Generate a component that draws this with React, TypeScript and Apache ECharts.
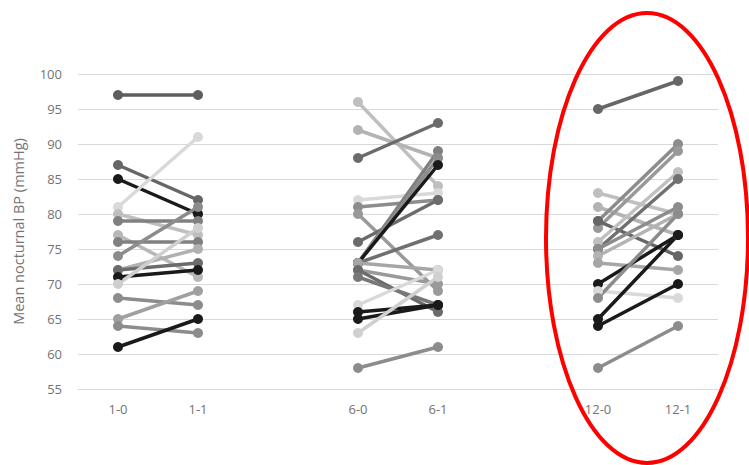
import React, { useEffect, useRef } from "react";
import * as echarts from "echarts";

const categories = ["1-0", "1-1", "", "6-0", "6-1", "", "12-0", "12-1"];
const yTicks = { min: 55, max: 100, interval: 5 };

// Month 1 pairs (before, after, shade)
const m1Before = [97, 87, 85, 81, 80, 79, 77, 76, 74, 72, 72, 71, 70, 68, 65, 64, 61];
const m1After = [97, 82, 80, 91, 77, 79, 71, 76, 81, 75, 73, 72, 78, 67, 69, 63, 65];
const m1Shade = ["#5e5e5e", "#666666", "#1a1a1a", "#d9d9d9", "#bfbfbf", "#808080", "#b8b8b8", "#808080", "#8c8c8c", "#b0b0b0", "#6b6b6b", "#1a1a1a", "#cfcfcf", "#8c8c8c", "#a0a0a0", "#8c8c8c", "#1a1a1a"];

// Month 6 pairs
const m6Before = [96, 92, 88, 82, 81, 80, 76, 73, 73, 73, 73, 73, 72, 72, 71, 67, 66, 65, 63, 58];
const m6After = [84, 88, 93, 83, 82, 69, 82, 89, 88, 87, 77, 72, 70, 66, 67, 72, 67, 67, 71, 61];
const m6Shade = ["#bfbfbf", "#b3b3b3", "#6b6b6b", "#d9d9d9", "#8c8c8c", "#999999", "#6b6b6b", "#808080", "#8c8c8c", "#1a1a1a", "#707070", "#a6a6a6", "#9a9a9a", "#6b6b6b", "#777777", "#d9d9d9", "#1a1a1a", "#1a1a1a", "#d0d0d0", "#8c8c8c"];

// Month 12 pairs
const m12Before = [95, 83, 81, 79, 78, 79, 76, 75, 75, 74, 73, 70, 69, 68, 65, 64, 58];
const m12After = [99, 80, 77, 90, 89, 74, 86, 85, 81, 80, 72, 77, 68, 80, 77, 70, 64];
const m12Shade = ["#666666", "#bfbfbf", "#b3b3b3", "#8c8c8c", "#999999", "#666666", "#c0c0c0", "#707070", "#8c8c8c", "#b3b3b3", "#a6a6a6", "#1a1a1a", "#d9d9d9", "#8c8c8c", "#1a1a1a", "#1a1a1a", "#8c8c8c"];

const groups = [
  { before: m1Before, after: m1After, shade: m1Shade, i0: 0, i1: 1 },
  { before: m6Before, after: m6After, shade: m6Shade, i0: 3, i1: 4 },
  { before: m12Before, after: m12After, shade: m12Shade, i0: 6, i1: 7 },
];

export default function App() {
  const ref = useRef<HTMLDivElement>(null);
  useEffect(() => {
    if (!ref.current) return;
    const chart = echarts.init(ref.current, null, { renderer: "svg" });
    const series: any[] = [];
    groups.forEach((g) => {
      g.before.forEach((b, k) => {
        const data: (number | null)[] = categories.map(() => null);
        data[g.i0] = b;
        data[g.i1] = g.after[k];
        series.push({
          type: "line",
          data,
          symbol: "circle",
          symbolSize: 10,
          showSymbol: true,
          connectNulls: false,
          lineStyle: { width: 3.5, color: g.shade[k] },
          itemStyle: { color: g.shade[k] },
          emphasis: { disabled: true },
        });
      });
    });
    chart.setOption({
      animation: false,
      textStyle: { fontFamily: "Open Sans, sans-serif" },
      grid: { left: 78, right: 31, top: 74, bottom: 76 },
      xAxis: {
        type: "category",
        data: categories,
        boundaryGap: true,
        axisLine: { show: true, lineStyle: { color: "#d9d9d9", width: 1 } },
        axisTick: { show: false },
        axisLabel: { color: "#737373", fontSize: 13, margin: 13, interval: 0 },
      },
      yAxis: {
        type: "value",
        min: yTicks.min,
        max: yTicks.max,
        interval: yTicks.interval,
        name: "Mean nocturnal BP (mmHg)",
        nameLocation: "middle",
        nameGap: 52,
        nameTextStyle: { color: "#737373", fontSize: 14.5 },
        axisLine: { show: false },
        axisTick: { show: false },
        axisLabel: { color: "#737373", fontSize: 13, margin: 16 },
        splitLine: { lineStyle: { color: "#d9d9d9", width: 1 } },
      },
      series,
      graphic: [
        {
          type: "ellipse",
          shape: { cx: 647, cy: 238, rx: 101, ry: 225 },
          style: { fill: "none", stroke: "#ff0000", lineWidth: 4 },
          z: 100,
        },
      ],
    });
    return () => chart.dispose();
  }, []);
  return (
    <div
      ref={ref}
      style={{ position: "absolute", left: 0, top: 0, width: 749, height: 465, background: "#fff" }}
    />
  );
}
